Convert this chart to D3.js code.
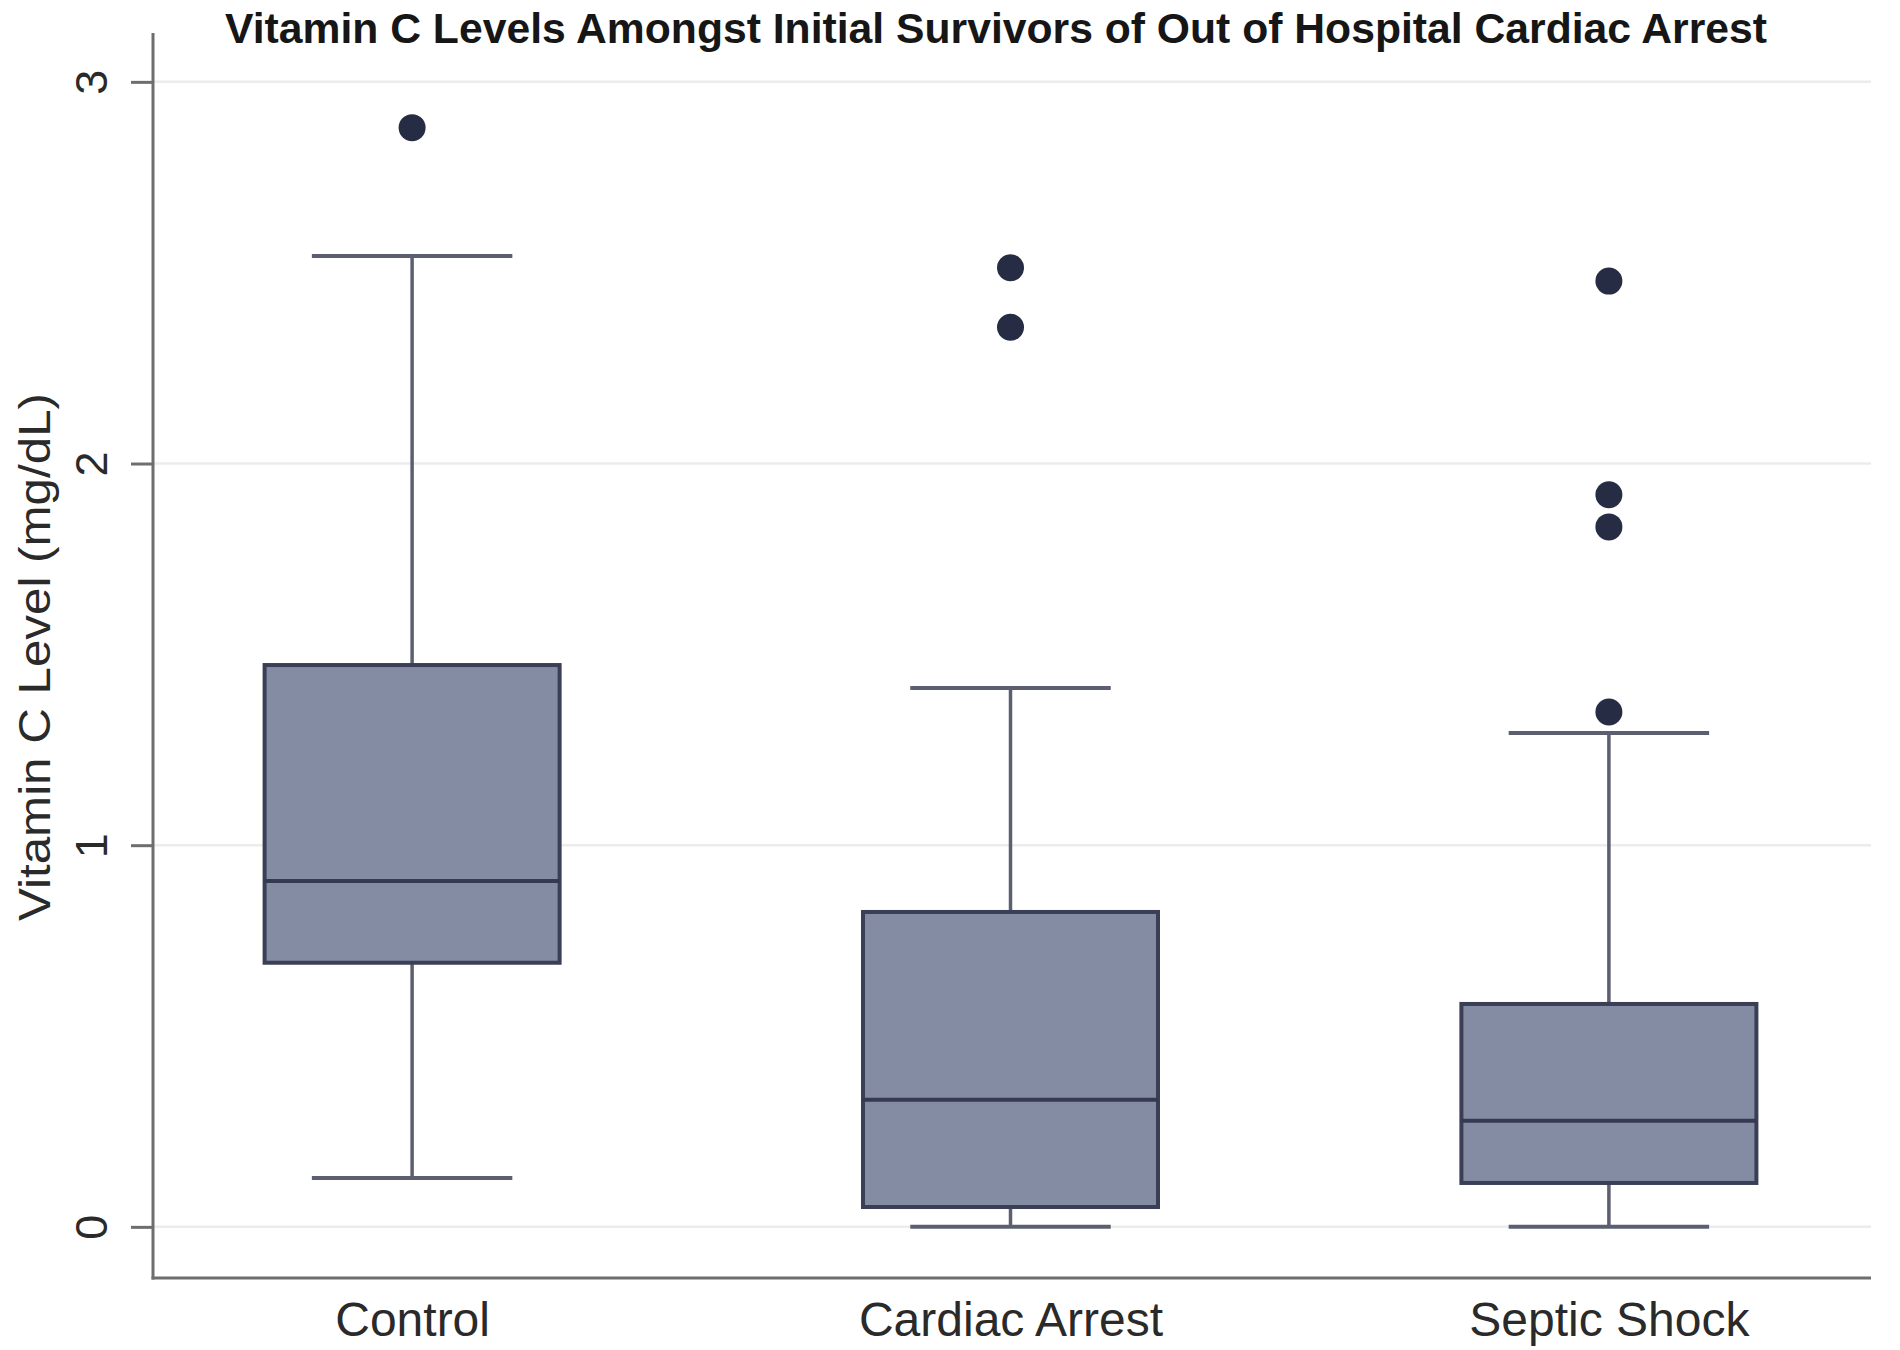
<!DOCTYPE html>
<html>
<head>
<meta charset="utf-8">
<script src="https://cdn.jsdelivr.net/npm/d3@7"></script>
<style>
  html, body { margin: 0; padding: 0; background: #ffffff; }
  svg { display: block; }
  text { font-family: "Liberation Sans", Arial, Helvetica, sans-serif; }
</style>
</head>
<body>
<svg id="chart" width="1900" height="1350"></svg>
<script>
// ---- data ----
const title = "Vitamin C Levels Amongst Initial Survivors of Out of Hospital Cardiac Arrest";
const yLabel = "Vitamin C Level (mg/dL)";
const categories = ["Control", "Cardiac Arrest", "Septic Shock"];
const whiskerLow = [0.128, 0.0, 0.0];
const q1 = [0.692, 0.052, 0.115];
const median = [0.906, 0.333, 0.278];
const q3 = [1.472, 0.825, 0.584];
const whiskerHigh = [2.544, 1.412, 1.294];
const outliers = [[2.88], [2.513, 2.357], [2.478, 1.918, 1.834, 1.349]];
const yTicks = [0, 1, 2, 3];

// ---- layout ----
const plotLeft = 153, plotRight = 1868, plotTop = 33, plotBottom = 1278;

const svg = d3.select("#chart");

const x = d3.scalePoint().domain(categories).range([plotLeft, plotRight]).padding(0.433);
const y = d3.scaleLinear().domain([-0.134, 3.128]).range([plotBottom, plotTop]);
const step = x.step();
const boxW = step * 0.493;
const capW = step * 0.335;

// gridlines
svg.append("g").selectAll("line").data(yTicks).join("line")
  .attr("x1", plotLeft).attr("x2", plotRight + 3)
  .attr("y1", d => y(d)).attr("y2", d => y(d))
  .attr("stroke", "#ececec").attr("stroke-width", 2.5);

// y axis
const yAxis = d3.axisLeft(y).tickValues(yTicks).tickFormat(d3.format("d")).tickSize(22).tickPadding(12);
const gy = svg.append("g").attr("transform", `translate(${plotLeft},0)`).call(yAxis);
gy.select(".domain").remove();
gy.selectAll(".tick line").attr("stroke", "#6e6e6e").attr("stroke-width", 3);
gy.selectAll(".tick text")
  .attr("font-size", 45).attr("fill", "#2a2a2a")
  .attr("text-anchor", "middle")
  .attr("x", null).attr("dy", null)
  .attr("transform", "translate(-62,0) rotate(-90)")
  .attr("dominant-baseline", "central");

// x axis
const xAxis = d3.axisBottom(x).tickSize(0).tickPadding(23);
const gx = svg.append("g").attr("transform", `translate(0,${plotBottom})`).call(xAxis);
gx.select(".domain").remove();
gx.selectAll(".tick text").attr("font-size", 48).attr("fill", "#2a2a2a").attr("dy", "0.72em");

// axis lines
svg.append("line").attr("x1", plotLeft).attr("x2", plotLeft).attr("y1", plotTop).attr("y2", plotBottom + 1.5)
  .attr("stroke", "#6e6e6e").attr("stroke-width", 3);
svg.append("line").attr("x1", plotLeft - 1.5).attr("x2", plotRight + 3).attr("y1", plotBottom).attr("y2", plotBottom)
  .attr("stroke", "#6e6e6e").attr("stroke-width", 3);

// boxes
const boxes = svg.append("g").selectAll("g").data(categories).join("g");

// whisker stems
boxes.append("line")
  .attr("x1", d => x(d)).attr("x2", d => x(d))
  .attr("y1", (d, i) => y(whiskerHigh[i])).attr("y2", (d, i) => y(q3[i]))
  .attr("stroke", "#5b5f70").attr("stroke-width", 3.5);
boxes.append("line")
  .attr("x1", d => x(d)).attr("x2", d => x(d))
  .attr("y1", (d, i) => y(whiskerLow[i])).attr("y2", (d, i) => y(q1[i]))
  .attr("stroke", "#5b5f70").attr("stroke-width", 3.5);
// caps
boxes.append("line")
  .attr("x1", d => x(d) - capW / 2).attr("x2", d => x(d) + capW / 2)
  .attr("y1", (d, i) => y(whiskerHigh[i])).attr("y2", (d, i) => y(whiskerHigh[i]))
  .attr("stroke", "#5b5f70").attr("stroke-width", 4);
boxes.append("line")
  .attr("x1", d => x(d) - capW / 2).attr("x2", d => x(d) + capW / 2)
  .attr("y1", (d, i) => y(whiskerLow[i])).attr("y2", (d, i) => y(whiskerLow[i]))
  .attr("stroke", "#5b5f70").attr("stroke-width", 4);
// box
boxes.append("rect")
  .attr("x", d => x(d) - boxW / 2).attr("width", boxW)
  .attr("y", (d, i) => y(q3[i])).attr("height", (d, i) => y(q1[i]) - y(q3[i]))
  .attr("fill", "#838ca2").attr("stroke", "#3b3f55").attr("stroke-width", 4);
// median
boxes.append("line")
  .attr("x1", d => x(d) - boxW / 2).attr("x2", d => x(d) + boxW / 2)
  .attr("y1", (d, i) => y(median[i])).attr("y2", (d, i) => y(median[i]))
  .attr("stroke", "#363a50").attr("stroke-width", 4);
// outliers
boxes.each(function (d, i) {
  d3.select(this).selectAll("circle").data(outliers[i]).join("circle")
    .attr("cx", x(d)).attr("cy", v => y(v)).attr("r", 13.5)
    .attr("fill", "#272c45");
});

// title
svg.append("text")
  .attr("x", 996).attr("y", 43)
  .attr("text-anchor", "middle")
  .attr("font-size", 42).attr("font-weight", "bold").attr("fill", "#161616")
  .attr("textLength", 1542).attr("lengthAdjust", "spacingAndGlyphs")
  .text(title);

// y label
svg.append("text")
  .attr("transform", `translate(50,657) rotate(-90)`)
  .attr("text-anchor", "middle")
  .attr("font-size", 45).attr("fill", "#2a2a2a")
  .attr("textLength", 528).attr("lengthAdjust", "spacingAndGlyphs")
  .text(yLabel);
</script>
</body>
</html>
